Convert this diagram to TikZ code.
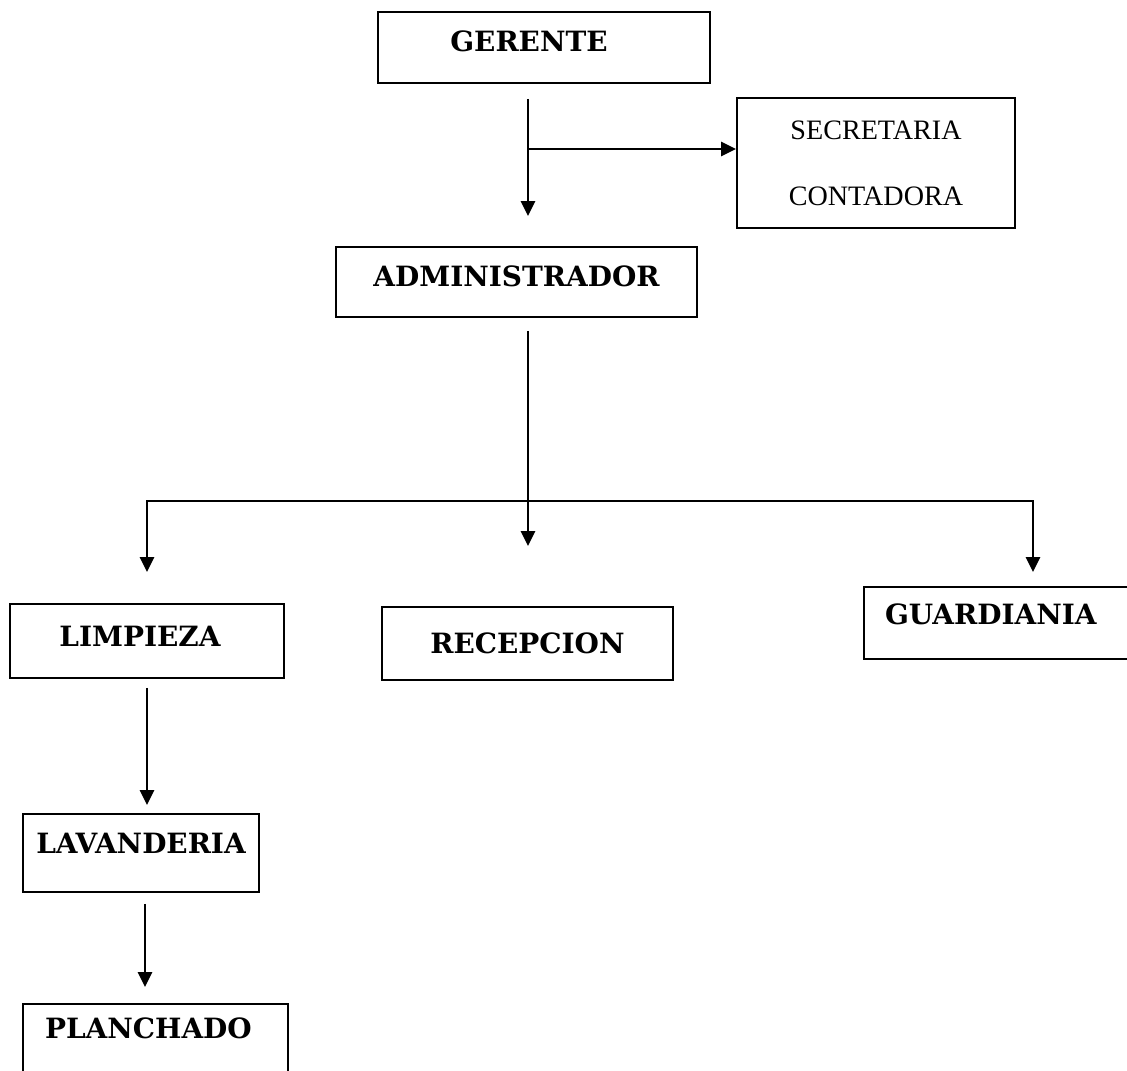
\documentclass[tikz,border=0pt]{standalone}
\usepackage{fontspec}
\setmainfont{Liberation Serif}
\newfontfamily\boxfont{DejaVu Serif}
\usepackage{tikz}
\usetikzlibrary{positioning, arrows.meta, calc}

\begin{document}
\begin{tikzpicture}[
    x=0.02cm, y=-0.02cm,
    box/.style={rectangle, draw, line width=1.1pt, align=center,
                font=\boxfont\bfseries\fontsize{15.9}{19}\selectfont,
                text height=0.4cm, text depth=0cm},
    lbox/.style={box, align=left},
    sbox/.style={rectangle, draw, line width=1.1pt, align=center,
                 font=\fontsize{16}{37.5}\selectfont},
    arrow/.style={-{Triangle[length=0.3cm, width=0.28cm]}, line width=1.5pt},
    tarrow/.style={{Triangle[length=0.3cm, width=0.28cm]}-{Triangle[length=0.3cm, width=0.28cm]}, line width=1.5pt},
]
\useasboundingbox (0,0) rectangle (1127,1071);

% --- top ---
\node[box, minimum width=6.64cm, minimum height=1.42cm, text depth=0.22cm]
    (gerente) at (544,47.5) {GERENTE\hspace{0.6cm}};
\node[sbox, minimum width=5.56cm, minimum height=2.6cm]
    (secret) at (876,163) {SECRETARIA\\CONTADORA};
\node[box, minimum width=7.22cm, minimum height=1.4cm, text depth=0.2cm]
    (admin) at (516.5,282) {ADMINISTRADOR};

% --- departments ---
\node[box, minimum width=5.48cm, minimum height=1.48cm, text depth=0.16cm]
    (limp) at (147,641) {LIMPIEZA\hspace{0.28cm}};
\node[box, minimum width=5.82cm, minimum height=1.46cm]
    (recep) at (527.5,643.5) {RECEPCION};
\node[lbox, text width=5.92cm, inner xsep=0.42cm, minimum height=1.44cm, text depth=0.32cm]
    (guard) at (1033,623) {GUARDIANIA};

% --- under limpieza ---
\node[box, minimum width=4.72cm, minimum height=1.56cm, text depth=0.4cm]
    (lav) at (141,853) {LAVANDERIA};
\node[lbox, text width=4.42cm, inner xsep=0.44cm, minimum height=1.56cm, text depth=0.6cm]
    (planch) at (155.5,1043) {PLANCHADO};

% ============== arrows ==============
\coordinate (gA) at ([xshift=-0.32cm, yshift=-0.3cm]gerente.south);
\draw[arrow] (gA) -- ([yshift=0.6cm]gA |- admin.north);
\draw[arrow] ([yshift=0.28cm]gA |- secret.west) -- ([yshift=0.28cm]secret.west);

\coordinate (aS) at ([xshift=0.23cm, yshift=-0.26cm]admin.south);
\draw[arrow] (aS) -- ([yshift=1.2cm]aS |- recep.north);
\draw[tarrow] ([yshift=0.62cm]limp.north) |- ([yshift=2.1cm]aS |- recep.north)
    -| ([yshift=0.28cm]guard.north);

\draw[arrow] ([yshift=-0.18cm]limp.south) -- ([yshift=0.16cm]limp.south |- lav.north);
\draw[arrow] ([xshift=0.08cm, yshift=-0.22cm]lav.south)
    -- ([xshift=0.08cm, yshift=0.32cm]lav.south |- planch.north);

\end{tikzpicture}
\end{document}
